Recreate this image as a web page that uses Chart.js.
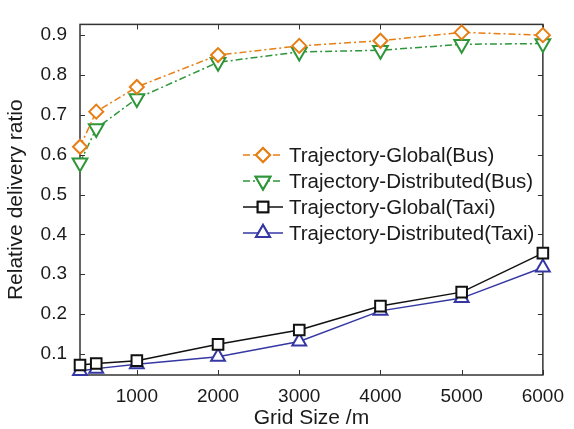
<!DOCTYPE html>
<html>
<head>
<meta charset="utf-8">
<script src="https://cdn.jsdelivr.net/npm/chart.js@4.4.0/dist/chart.umd.min.js"></script>
<style>
  html, body { margin: 0; padding: 0; background: #fff; }
  #wrap { width: 574px; height: 429px; }
</style>
</head>
<body>
<div id="wrap"><canvas id="deliveryChart" width="574" height="429"></canvas></div>
<script>
// ===== Relative delivery ratio vs grid size =====

const gridSizes = [300, 500, 1000, 2000, 3000, 4000, 5000, 6000];
const globalBus = [0.62, 0.708, 0.77, 0.85, 0.873, 0.886, 0.907, 0.90];
const distributedBus = [0.58, 0.666, 0.741, 0.832, 0.858, 0.862, 0.877, 0.879];
const globalTaxi = [0.072, 0.076, 0.083, 0.124, 0.16, 0.22, 0.255, 0.353];
const distributedTaxi = [0.057, 0.063, 0.074, 0.093, 0.131, 0.208, 0.24, 0.317];

const seriesLabels = [
  'Trajectory-Global(Bus)',
  'Trajectory-Distributed(Bus)',
  'Trajectory-Global(Taxi)',
  'Trajectory-Distributed(Taxi)'
];
const xTicks = [1000, 2000, 3000, 4000, 5000, 6000];
const yTicks = [0.1, 0.2, 0.3, 0.4, 0.5, 0.6, 0.7, 0.8, 0.9];

const FONT = 'Liberation Sans, Arial, Helvetica, sans-serif';
const AXIS_COLOR = '#333';

function toPoints(values) {
  return gridSizes.map((x, i) => ({ x, y: values[i] }));
}

// box + inward ticks on all four sides
const framePlugin = {
  id: 'frame',
  beforeDatasetsDraw(chart) {
    const { ctx, chartArea: a, scales: { x, y } } = chart;
    ctx.save();
    ctx.strokeStyle = AXIS_COLOR;
    ctx.lineWidth = 1.5;
    ctx.strokeRect(a.left, a.top, a.right - a.left, a.bottom - a.top);
    ctx.lineWidth = 1;
    ctx.beginPath();
    xTicks.forEach(v => {
      const px = Math.round(x.getPixelForValue(v)) + 0.5;
      ctx.moveTo(px, a.bottom); ctx.lineTo(px, a.bottom - 5);
      ctx.moveTo(px, a.top); ctx.lineTo(px, a.top + 5);
    });
    yTicks.forEach(v => {
      const py = Math.round(y.getPixelForValue(v)) + 0.5;
      ctx.moveTo(a.left, py); ctx.lineTo(a.left + 5, py);
      ctx.moveTo(a.right, py); ctx.lineTo(a.right - 5, py);
    });
    ctx.stroke();
    ctx.restore();
  }
};

// legend drawn inside the plot, no box
const innerLegend = {
  id: 'innerLegend',
  afterDraw(chart) {
    const { ctx } = chart;
    const x0 = 243, x1 = 283, textX = 289;
    const rows = [155, 181, 207, 233];
    ctx.save();
    chart.data.datasets.forEach((ds, i) => {
      const yy = rows[i];
      ctx.strokeStyle = ds.borderColor;
      ctx.lineWidth = ds.borderWidth;
      ctx.setLineDash(ds.borderDash || []);
      ctx.beginPath();
      ctx.moveTo(x0, yy);
      ctx.lineTo(x1, yy);
      ctx.stroke();
      ctx.setLineDash([]);
      ctx.fillStyle = '#fff';
      ctx.lineWidth = ds.pointBorderWidth;
      Chart.helpers.drawPoint(ctx, {
        pointStyle: ds.pointStyle,
        radius: ds.pointRadius,
        rotation: ds.pointRotation || 0,
        borderWidth: ds.pointBorderWidth
      }, (x0 + x1) / 2, yy);
      ctx.fill();
      ctx.stroke();
      ctx.fillStyle = '#1a1a1a';
      ctx.font = '20.5px ' + FONT;
      ctx.textBaseline = 'middle';
      ctx.textAlign = 'left';
      ctx.fillText(ds.label, textX, yy + 1);
    });
    ctx.restore();
  }
};

const ctx = document.getElementById('deliveryChart').getContext('2d');

new Chart(ctx, {
  type: 'line',
  data: {
    datasets: [
      {
        label: seriesLabels[0],
        data: toPoints(globalBus),
        borderColor: '#E67E14',
        borderWidth: 1.5,
        borderDash: [7, 3, 2, 3],
        pointStyle: 'rectRot',
        pointRadius: 7,
        pointBorderWidth: 2,
        pointBackgroundColor: '#fff',
        pointBorderColor: '#E67E14'
      },
      {
        label: seriesLabels[1],
        data: toPoints(distributedBus),
        borderColor: '#2E963A',
        borderWidth: 1.5,
        borderDash: [7, 3, 2, 3],
        pointStyle: 'triangle',
        pointRotation: 180,
        pointRadius: 8.5,
        pointBorderWidth: 2,
        pointBackgroundColor: '#fff',
        pointBorderColor: '#2E963A'
      },
      {
        label: seriesLabels[2],
        data: toPoints(globalTaxi),
        borderColor: '#111',
        borderWidth: 1.5,
        pointStyle: 'rect',
        pointRadius: 7.5,
        pointBorderWidth: 2,
        pointBackgroundColor: '#fff',
        pointBorderColor: '#111'
      },
      {
        label: seriesLabels[3],
        data: toPoints(distributedTaxi),
        borderColor: '#3538A3',
        borderWidth: 1.5,
        pointStyle: 'triangle',
        pointRadius: 8,
        pointBorderWidth: 2,
        pointBackgroundColor: '#fff',
        pointBorderColor: '#3538A3'
      }
    ]
  },
  options: {
    responsive: false,
    animation: false,
    clip: false,
    layout: { padding: { left: 4, right: 24, top: 10, bottom: 0 } },
    plugins: {
      legend: { display: false },
      tooltip: { enabled: false }
    },
    elements: { line: { tension: 0 } },
    scales: {
      x: {
        type: 'linear',
        min: 300,
        max: 6000,
        afterBuildTicks: (scale) => { scale.ticks = xTicks.map(v => ({ value: v })); },
        afterFit: (scale) => { scale.height = 54; },
        grid: { display: false, drawTicks: false },
        border: { display: false },
        ticks: {
          color: '#1a1a1a',
          font: { size: 19, family: FONT },
          padding: 10,
          maxRotation: 0,
          callback: (val) => String(val)
        },
        title: {
          display: true,
          text: 'Grid Size /m',
          color: '#1a1a1a',
          font: { size: 21, family: FONT },
          padding: { top: 0, bottom: -2 }
        }
      },
      y: {
        min: 0.047,
        max: 0.927,
        afterBuildTicks: (scale) => { scale.ticks = yTicks.map(v => ({ value: v })); },
        afterFit: (scale) => { scale.width = 76; },
        grid: { display: false, drawTicks: false },
        border: { display: false },
        ticks: {
          color: '#1a1a1a',
          font: { size: 19, family: FONT },
          padding: 13,
          callback: (val) => val.toFixed(1)
        },
        title: {
          display: true,
          text: 'Relative delivery ratio',
          color: '#1a1a1a',
          font: { size: 21, family: FONT },
          padding: { top: 0, bottom: 2 }
        }
      }
    }
  },
  plugins: [framePlugin, innerLegend]
});
</script>
</body>
</html>
